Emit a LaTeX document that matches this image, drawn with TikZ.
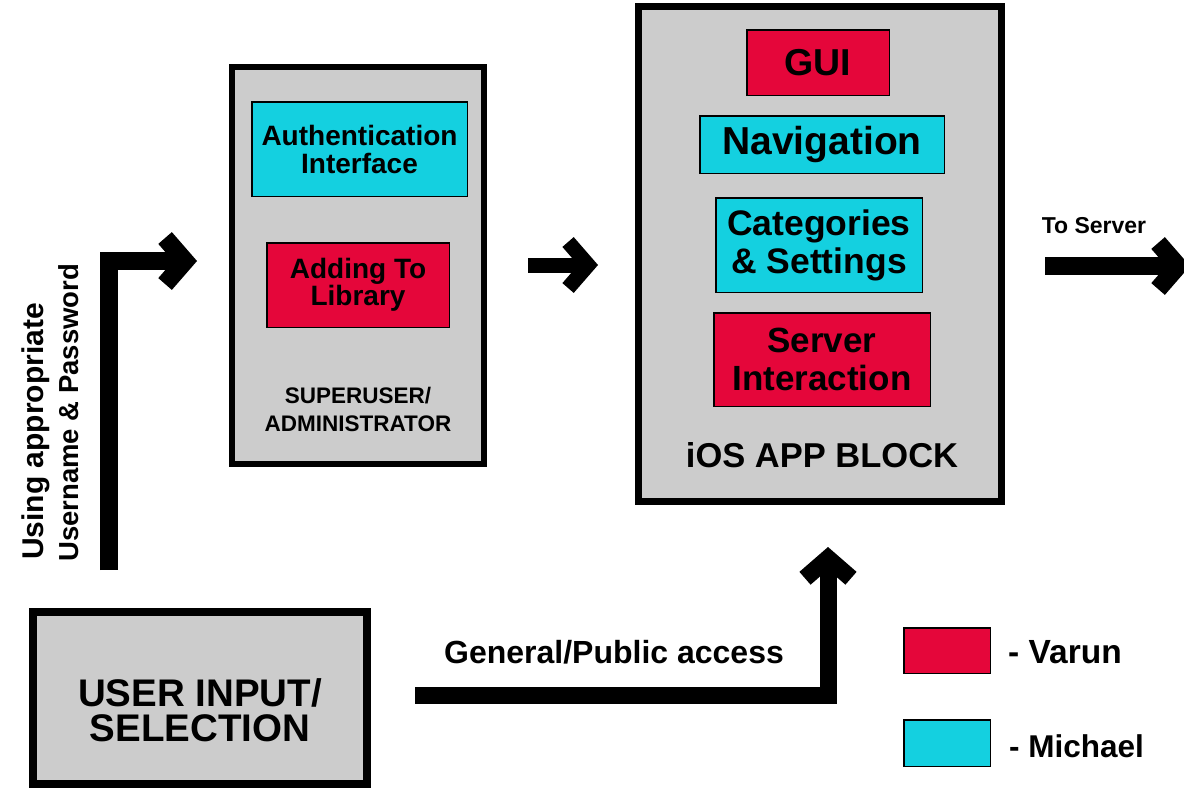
\documentclass[tikz,border=0pt]{standalone}
\usepackage{fontspec}
\setmainfont{Liberation Sans}
\usetikzlibrary{arrows.meta}
\definecolor{vred}{HTML}{E5063A}
\definecolor{mcyan}{HTML}{14D0E0}
\definecolor{boxgray}{HTML}{CCCCCC}
\newcommand{\fsz}[2]{\fontsize{#1}{#2}\selectfont\bfseries}
\begin{document}
\begin{tikzpicture}[x=1pt,y=-1pt,
  outerbox/.style={draw=black, fill=boxgray, inner sep=0pt, align=center},
  inbox/.style={draw=black, line width=1.5pt, inner sep=0pt, align=center},
  redbox/.style={inbox, fill=vred},
  cyanbox/.style={inbox, fill=mcyan},
  lbl/.style={inner sep=0pt, align=center},
  bigarrow/.style={draw=black, line width=#1, line join=miter, line cap=butt,
    -{Straight Barb[length=20pt, width=46pt, line join=miter]}},
]
\useasboundingbox (0,0) rectangle (1184,788);
\fill[white] (0,0) rectangle (1184,788);

% main blocks
\node[outerbox, line width=6pt, minimum width=252pt, minimum height=397pt] (su) at (358,265.5) {};
\node[outerbox, line width=7pt, minimum width=363pt, minimum height=495pt] (ios) at (820,254) {};
\node[outerbox, line width=8pt, minimum width=334pt, minimum height=172pt] (user) at (200,698) {};
\node[lbl, font={\fsz{38.5}{35}}] (userlbl) at (200,710) {USER INPUT/\\SELECTION};

% superuser contents
\node[cyanbox, minimum width=215.5pt, minimum height=94.5pt, font={\fsz{28}{28}}] (auth) at (359.5,149)
  {Authentication\\Interface};
\node[redbox, minimum width=182.5pt, minimum height=84.5pt, font={\fsz{28}{27}}] (add) at (358,285)
  {Adding To\\Library};
\node[lbl, font={\fsz{22.5}{28}}] (sulbl) at (358,409) {SUPERUSER/\\ADMINISTRATOR};

% iOS contents
\node[redbox, minimum width=142.5pt, minimum height=65.5pt, font={\fsz{37.5}{37}}] (gui) at (818,62.5) {GUI};
\node[cyanbox, minimum width=244.5pt, minimum height=57.5pt, font={\fsz{39}{39}}] (nav) at (822,144.5) {Navigation};
\node[cyanbox, minimum width=206.5pt, minimum height=94.5pt, font={\fsz{35.5}{38}}] (cat) at (819,245)
  {Categories\\\& Settings};
\node[redbox, minimum width=216.5pt, minimum height=93.5pt, font={\fsz{35}{38}}] (srv) at (822,359.5)
  {Server\\Interaction};
\node[lbl, anchor=base, font={\fsz{34.5}{34.5}}] (ioslbl) at (822,467) {iOS APP BLOCK};

% legend
\node[redbox, minimum width=86.5pt, minimum height=45.5pt] (lred) at (947,650.5) {};
\node[cyanbox, minimum width=86.5pt, minimum height=46.5pt] (lcyan) at (947,743) {};
\node[lbl, anchor=base west, font={\fsz{33.5}{33.5}}] (varun) at (1008,663) {- Varun};
\node[lbl, anchor=base west, font={\fsz{31.5}{31.5}}] (michael) at (1009,757) {- Michael};

% rotated label
\node[lbl, rotate=90, anchor=base west, font={\fsz{30}{30}}] (using) at (43,560) {Using appropriate};
\node[lbl, rotate=90, anchor=base west, font={\fsz{27.5}{27.5}}] (userpw) at (78,562) {Username \& Password};

% other labels
\node[lbl, anchor=base, font={\fsz{32}{32}}] (gplbl) at (614,663) {General/Public access};
\node[lbl, anchor=base, font={\fsz{23}{23}}] (tslbl) at (1094,233) {To Server};

% arrow coordinates
\coordinate (lstart) at (109,570);
\coordinate (ltip) at (197,261);
\coordinate (mstart) at (528,265);
\coordinate (mtip) at (598,265);
\coordinate (sstart) at (1045,266);
\coordinate (stip) at (1190,266);
\coordinate (gstart) at (415,695);
\coordinate (gtip) at (828,547);

\draw[bigarrow=18pt] (lstart) |- (ltip);
\draw[bigarrow=15pt] (mstart) -- (mtip);
\draw[bigarrow=18pt] (sstart) -- (stip);
\draw[bigarrow=17pt] (gstart) -| (gtip);
\end{tikzpicture}
\end{document}
